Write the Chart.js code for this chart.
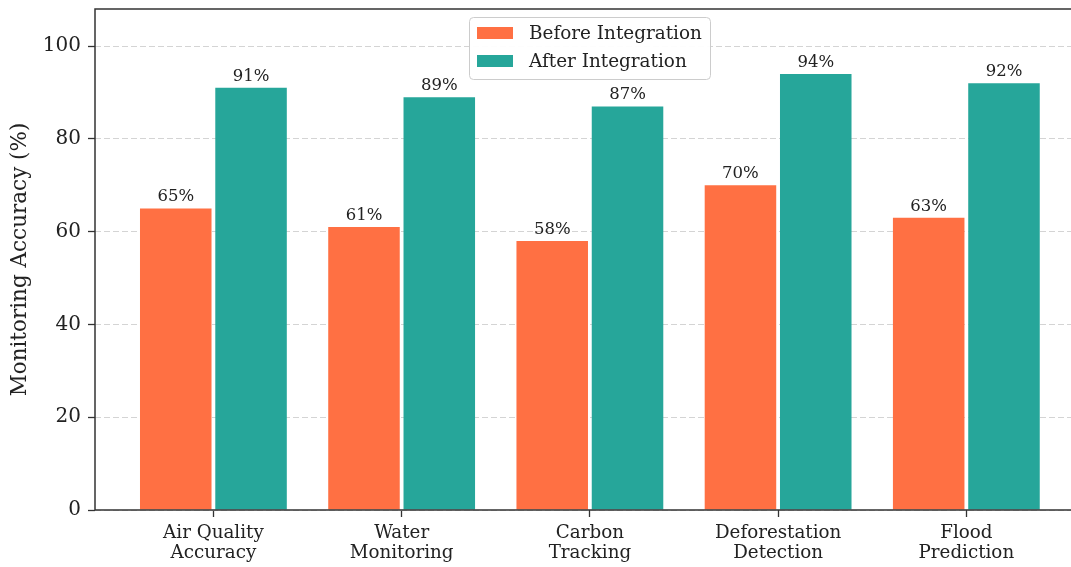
<!DOCTYPE html>
<html>
<head>
<meta charset="utf-8">
<script src="https://cdn.jsdelivr.net/npm/chart.js@4.4.1/dist/chart.umd.min.js"></script>
<style>
  html, body { margin: 0; padding: 0; background: #fff; overflow: hidden; }
  canvas { display: block; }
</style>
</head>
<body>
<canvas id="accuracyChart" width="1071" height="567"></canvas>
<script>
// chart data
const categories = ['Air Quality\nAccuracy', 'Water\nMonitoring', 'Carbon\nTracking', 'Deforestation\nDetection', 'Flood\nPrediction'];
const beforeValues = [65, 61, 58, 70, 63];
const afterValues = [91, 89, 87, 94, 92];
const seriesNames = ['Before Integration', 'After Integration'];
const yTicks = [0, 20, 40, 60, 80, 100];

const FONT = '"DejaVu Serif", "Liberation Serif", serif';
const INK = '#222';

// value labels above each bar
const valueLabels = {
    id: 'valueLabels',
    afterDatasetsDraw(chart) {
        const ctx = chart.ctx;
        ctx.save();
        ctx.font = '16.5px ' + FONT;
        ctx.fillStyle = INK;
        ctx.textAlign = 'center';
        ctx.textBaseline = 'alphabetic';
        chart.data.datasets.forEach((ds, di) => {
            chart.getDatasetMeta(di).data.forEach((bar, i) => {
                ctx.fillText(ds.data[i].y + '%', bar.x, bar.y - 7);
            });
        });
        ctx.restore();
    }
};

// spines + legend box (drawn last so it sits over the grid)
const frameAndLegend = {
    id: 'frameAndLegend',
    afterDraw(chart) {
        const ctx = chart.ctx;
        const a = chart.chartArea;
        ctx.save();
        ctx.strokeStyle = '#333';
        ctx.lineWidth = 1.5;
        ctx.beginPath();
        ctx.moveTo(chart.width, a.top);
        ctx.lineTo(a.left, a.top);
        ctx.lineTo(a.left, a.bottom);
        ctx.lineTo(chart.width, a.bottom);
        ctx.stroke();

        // legend
        const bx = 469.5, by = 17.5, bw = 241, bh = 62, r = 4;
        ctx.fillStyle = 'rgba(255,255,255,0.95)';
        ctx.strokeStyle = '#cccccc';
        ctx.lineWidth = 1;
        ctx.beginPath();
        ctx.roundRect(bx, by, bw, bh, r);
        ctx.fill();
        ctx.stroke();

        ctx.font = '18.4px ' + FONT;
        ctx.textAlign = 'left';
        ctx.textBaseline = 'middle';
        chart.data.datasets.forEach((ds, i) => {
            const cy = 33 + i * 28;
            ctx.fillStyle = ds.backgroundColor;
            ctx.fillRect(477, cy - 6, 36, 12);
            ctx.fillStyle = INK;
            ctx.fillText(ds.label, 529, cy + 1);
        });
        ctx.restore();
    }
};

const ctx = document.getElementById('accuracyChart').getContext('2d');

new Chart(ctx, {
    type: 'bar',
    data: {
        datasets: [
            {
                label: seriesNames[0],
                data: beforeValues.map((v, i) => ({ x: i, y: v })),
                backgroundColor: '#FF7043',
                borderWidth: 0
            },
            {
                label: seriesNames[1],
                data: afterValues.map((v, i) => ({ x: i, y: v })),
                backgroundColor: '#26A69A',
                borderWidth: 0
            }
        ]
    },
    options: {
        responsive: false,
        animation: false,
        categoryPercentage: 0.8,
        barPercentage: 0.95,
        layout: { padding: { top: 9, left: 0, right: 0, bottom: 0 } },
        plugins: {
            legend: { display: false },
            tooltip: { enabled: false }
        },
        scales: {
            x: {
                type: 'linear',
                offset: false,
                min: -0.629,
                max: 4.556,
                afterBuildTicks: (scale) => {
                    scale.ticks = categories.map((_, i) => ({ value: i }));
                },
                afterFit: (scale) => {
                    scale.height = 57;
                    scale.paddingLeft = 0;
                    scale.paddingRight = 0;
                },
                grid: {
                    offset: false,
                    drawOnChartArea: false,
                    drawTicks: true,
                    tickLength: 7,
                    tickColor: '#333',
                    tickWidth: 1.3
                },
                border: { display: false },
                ticks: {
                    autoSkip: false,
                    maxRotation: 0,
                    padding: 6,
                    color: INK,
                    font: { family: FONT, size: 18.3, lineHeight: 1.1 },
                    callback: (value) => {
                        const label = categories[Math.round(value)];
                        return label ? label.split('\n') : '';
                    }
                }
            },
            y: {
                min: 0,
                max: 108,
                afterBuildTicks: (scale) => {
                    scale.ticks = yTicks.map(v => ({ value: v }));
                },
                afterFit: (scale) => {
                    scale.width = 95;
                    scale.paddingTop = 0;
                    scale.paddingBottom = 0;
                },
                grid: {
                    color: '#d4d4d4',
                    lineWidth: 1,
                    drawTicks: true,
                    tickLength: 7,
                    tickColor: '#333',
                    tickWidth: 1.3,
                    tickBorderDash: []
                },
                border: { display: false, dash: [6, 3] },
                ticks: {
                    padding: 7,
                    color: INK,
                    font: { family: FONT, size: 20 }
                },
                title: {
                    display: true,
                    text: 'Monitoring Accuracy (%)',
                    color: INK,
                    font: { family: FONT, size: 21.5 },
                    padding: { top: 8, bottom: 0 }
                }
            }
        }
    },
    plugins: [valueLabels, frameAndLegend]
});
</script>
</body>
</html>
